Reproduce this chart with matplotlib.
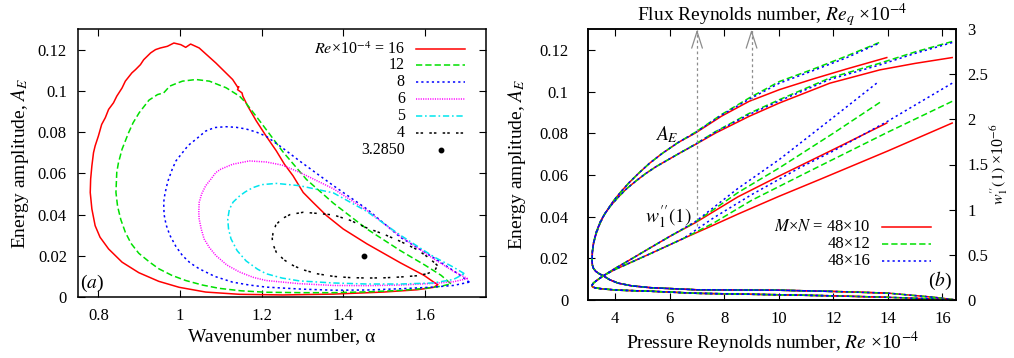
import matplotlib
matplotlib.use("Agg")
import matplotlib.pyplot as plt
import numpy as np

plt.rcParams.update({
    "font.family": "serif",
    "font.serif": ["Liberation Serif", "DejaVu Serif"],
    "mathtext.fontset": "stix",
    "font.size": 12,
    "lines.scale_dashes": False,
    "xtick.direction": "in", "ytick.direction": "in",
    "xtick.major.size": 5, "ytick.major.size": 5,
    "xtick.major.width": 0.8, "ytick.major.width": 0.8,
    "axes.linewidth": 1.1,
})

# ---------------- panel (a): A_E vs alpha, one closed curve per Re ----------------
ALPHA_16 = [1.141, 1.129, 1.088, 1.047, 1.026, 1.014, 1.002, 0.985, 0.969, 0.952, 0.940, 0.928, 0.911,
            0.903, 0.891, 0.882, 0.866, 0.858, 0.845, 0.837, 0.825, 0.817, 0.808, 0.800, 0.792, 0.788,
            0.784, 0.781, 0.780, 0.784, 0.792, 0.804, 0.825, 0.858, 0.899, 0.948, 0.998, 1.063, 1.146,
            1.252, 1.376, 1.499, 1.581, 1.622, 1.632, 1.622, 1.598, 1.540, 1.458, 1.400, 1.359, 1.326,
            1.302, 1.277, 1.256, 1.236, 1.211, 1.187, 1.166, 1.154, 1.152, 1.141, 1.144]
AE_16 = [0.1019, 0.1055, 0.1135, 0.1208, 0.1227, 0.1211, 0.1224, 0.1232, 0.1216, 0.1208, 0.1200, 0.1184,
         0.1151, 0.1127, 0.1103, 0.1087, 0.1047, 0.1014, 0.0974, 0.0942, 0.0910, 0.0870, 0.0837, 0.0781,
         0.0733, 0.0700, 0.0636, 0.0572, 0.0507, 0.0427, 0.0346, 0.0290, 0.0233, 0.0169, 0.0118, 0.0076,
         0.0047, 0.0024, 0.0013, 0.0010, 0.0014, 0.0024, 0.0035, 0.0047, 0.0060, 0.0072, 0.0105, 0.0166,
         0.0258, 0.0330, 0.0395, 0.0459, 0.0507, 0.0588, 0.0644, 0.0709, 0.0781, 0.0854, 0.0926, 0.0974,
         0.0990, 0.1006, 0.1019]

ALPHA_12 = [1.664, 1.640, 1.600, 1.540, 1.458, 1.376, 1.310, 1.252, 1.195, 1.160, 1.146, 1.113, 1.072,
            1.039, 1.006, 0.990, 0.975, 0.960, 0.945, 0.924, 0.900, 0.885, 0.874, 0.858, 0.849, 0.845,
            0.843, 0.847, 0.855, 0.866, 0.880, 0.899, 0.925, 0.948, 0.980, 1.014, 1.055, 1.096, 1.150,
            1.211, 1.300, 1.376, 1.460, 1.540, 1.600, 1.640, 1.664]
AE_12 = [0.0064, 0.0105, 0.0155, 0.0225, 0.0330, 0.0455, 0.0570, 0.0705, 0.0855, 0.0945, 0.0974, 0.1015,
         0.1047, 0.1055, 0.1047, 0.1035, 0.1023, 0.0990, 0.0982, 0.0955, 0.0894, 0.0845, 0.0797, 0.0717,
         0.0650, 0.0604, 0.0507, 0.0440, 0.0375, 0.0314, 0.0260, 0.0212, 0.0170, 0.0137, 0.0105, 0.0080,
         0.0058, 0.0042, 0.0030, 0.0023, 0.0021, 0.0021, 0.0025, 0.0032, 0.0042, 0.0052, 0.0064]

ALPHA_8 = [1.709, 1.680, 1.622, 1.540, 1.458, 1.376, 1.293, 1.250, 1.211, 1.187, 1.162, 1.138, 1.113,
           1.085, 1.063, 1.039, 1.020, 1.006, 0.990, 0.981, 0.970, 0.963, 0.960, 0.961, 0.966, 0.975,
           0.990, 1.006, 1.025, 1.047, 1.085, 1.129, 1.170, 1.211, 1.300, 1.376, 1.460, 1.540, 1.620,
           1.670, 1.709]
AE_8 = [0.0072, 0.0115, 0.0190, 0.0290, 0.0427, 0.0540, 0.0660, 0.0725, 0.0780, 0.0800, 0.0815, 0.0823,
        0.0826, 0.0822, 0.0805, 0.0765, 0.0735, 0.0700, 0.0660, 0.0620, 0.0560, 0.0500, 0.0459, 0.0400,
        0.0350, 0.0300, 0.0245, 0.0201, 0.0165, 0.0137, 0.0100, 0.0072, 0.0058, 0.0048, 0.0038, 0.0033,
        0.0034, 0.0040, 0.0048, 0.0056, 0.0072]

ALPHA_6 = [1.705, 1.670, 1.622, 1.540, 1.458, 1.376, 1.293, 1.250, 1.211, 1.170, 1.129, 1.100, 1.088,
           1.075, 1.063, 1.053, 1.047, 1.046, 1.047, 1.052, 1.059, 1.072, 1.088, 1.115, 1.146, 1.180,
           1.211, 1.290, 1.376, 1.460, 1.540, 1.620, 1.670, 1.705]
AE_6 = [0.0089, 0.0125, 0.0185, 0.0295, 0.0420, 0.0525, 0.0605, 0.0640, 0.0655, 0.0660, 0.0644, 0.0620,
        0.0604, 0.0570, 0.0540, 0.0500, 0.0459, 0.0410, 0.0378, 0.0330, 0.0282, 0.0240, 0.0201, 0.0155,
        0.0121, 0.0095, 0.0080, 0.0065, 0.0056, 0.0055, 0.0058, 0.0066, 0.0074, 0.0089]

ALPHA_5 = [1.697, 1.670, 1.622, 1.540, 1.458, 1.376, 1.293, 1.236, 1.200, 1.178, 1.160, 1.146, 1.130,
           1.121, 1.117, 1.119, 1.125, 1.140, 1.162, 1.190, 1.211, 1.250, 1.293, 1.376, 1.458, 1.540,
           1.620, 1.670, 1.697]
AE_5 = [0.0113, 0.0145, 0.0195, 0.0300, 0.0415, 0.0505, 0.0540, 0.0551, 0.0545, 0.0530, 0.0510, 0.0490,
        0.0460, 0.0425, 0.0378, 0.0330, 0.0282, 0.0225, 0.0175, 0.0135, 0.0113, 0.0092, 0.0078, 0.0068,
        0.0063, 0.0063, 0.0068, 0.0085, 0.0113]

ALPHA_4 = [1.631, 1.610, 1.581, 1.540, 1.499, 1.458, 1.417, 1.376, 1.340, 1.302, 1.270, 1.250, 1.235,
           1.228, 1.226, 1.229, 1.236, 1.255, 1.277, 1.300, 1.335, 1.376, 1.417, 1.460, 1.500, 1.540,
           1.580, 1.606, 1.625, 1.631]
AE_4 = [0.0153, 0.0190, 0.0230, 0.0270, 0.0305, 0.0335, 0.0372, 0.0398, 0.0405, 0.0411, 0.0400, 0.0380,
        0.0350, 0.0310, 0.0282, 0.0250, 0.0217, 0.0180, 0.0153, 0.0133, 0.0113, 0.0100, 0.0094, 0.0092,
        0.0093, 0.0097, 0.0103, 0.0113, 0.0130, 0.0153]

POINT_ALPHA = [1.45]
POINT_AE = [0.0198]

RE_LABELS = [r"$Re$×10$^{-4}$ = 16", "12", "8", "6", "5", "4"]

# ---------------- panel (b): A_E and w''_1(1) vs Re, two solution families ----------------
# A_E upper tails (family 1 ends near Re=14, family 2 near Re=16.4)
RE_AE1_RED = [13.96, 12.48, 11.25, 10.02, 8.91, 7.9, 6.94]
AE1_RED = [0.1163, 0.1108, 0.1060, 0.1009, 0.0953, 0.0882, 0.0801]
RE_AE1_GRN = [13.68, 12.48, 11.25, 10.02, 8.91, 7.9, 6.94]
AE1_GRN = [0.1235, 0.1170, 0.1107, 0.1048, 0.0969, 0.0890, 0.0805]
RE_AE1_BLU = [13.62, 12.48, 11.25, 10.02, 8.91, 7.9, 6.94]
AE1_BLU = [0.1228, 0.1162, 0.1100, 0.1040, 0.0963, 0.0887, 0.0803]

RE_AE2_RED = [16.36, 15.0, 13.71, 11.87, 10.02, 8.91, 7.68, 6.94]
AE2_RED = [0.1163, 0.1135, 0.1104, 0.1040, 0.0945, 0.0881, 0.0801, 0.0746]
RE_AE2_GRN = [16.36, 15.0, 13.71, 11.87, 10.02, 8.91, 7.68, 6.94]
AE2_GRN = [0.1240, 0.1190, 0.1136, 0.1065, 0.0961, 0.0895, 0.0808, 0.0748]
RE_AE2_BLU = [16.36, 15.0, 13.71, 11.87, 10.02, 8.91, 7.68, 6.94]
AE2_BLU = [0.1235, 0.1183, 0.1128, 0.1058, 0.0955, 0.0890, 0.0806, 0.0747]

# A_E near the fold (same for all resolutions)
RE_AE1_NOSE = [6.3, 5.71, 5.25, 4.85, 4.5, 4.2, 3.95, 3.75, 3.55, 3.4, 3.28, 3.2, 3.16, 3.15]
AE1_NOSE = [0.0755, 0.0702, 0.0655, 0.0607, 0.0562, 0.0518, 0.0478, 0.0440, 0.0398, 0.0355, 0.0310,
            0.0270, 0.0230, 0.0190]
RE_AE2_NOSE = [6.3, 5.9, 5.5, 5.1, 4.75, 4.4, 4.1, 3.85, 3.62, 3.45, 3.3, 3.21, 3.16, 3.15]
AE2_NOSE = [0.0700, 0.0670, 0.0640, 0.0605, 0.0570, 0.0532, 0.0492, 0.0455, 0.0415, 0.0375, 0.0325,
            0.0278, 0.0232, 0.0190]
RE_AE_LOW = [3.16, 3.2, 3.28, 3.4, 3.56, 3.8, 4.1, 4.6, 5.3, 7.0, 10.0, 12.0, 14.0, 15.7, 16.4]
AE_LOW = [0.0168, 0.0152, 0.0138, 0.0127, 0.0116, 0.0097, 0.0081, 0.0068, 0.0059, 0.0049, 0.0047,
          0.0041, 0.0033, 0.0013, 0.0002]

# w''_1(1) x 1e-6 (right axis) upper tails
RE_W1_RED = [13.96, 12.0, 10.0, 8.5, 7.62, 6.94]
W1_RED = [1.959, 1.666, 1.371, 1.142, 0.981, 0.856]
RE_W1_GRN = [13.71, 12.0, 10.02, 8.5, 7.62, 6.94]
W1_GRN = [2.188, 1.846, 1.463, 1.189, 1.004, 0.863]
RE_W1_BLU = [13.59, 12.0, 10.02, 8.5, 7.62, 6.94]
W1_BLU = [2.400, 2.022, 1.556, 1.235, 1.027, 0.868]

RE_W2_RED = [16.36, 14.0, 11.5, 10.0, 8.5, 7.62]
W2_RED = [1.959, 1.650, 1.334, 1.147, 0.951, 0.831]
RE_W2_GRN = [16.36, 14.0, 12.0, 10.76, 9.0, 7.62]
W2_GRN = [2.199, 1.858, 1.558, 1.371, 1.103, 0.854]
RE_W2_BLU = [16.36, 14.0, 12.0, 10.76, 9.0, 7.62]
W2_BLU = [2.400, 1.980, 1.650, 1.463, 1.166, 0.912]

RE_W1_NOSE = [6.0, 5.28, 4.5, 4.0, 3.56, 3.3, 3.2, 3.16, 3.15]
W1_NOSE = [0.704, 0.577, 0.438, 0.351, 0.268, 0.212, 0.188, 0.170, 0.157]
RE_W2_NOSE = [6.5, 5.28, 4.5, 4.0, 3.56, 3.3, 3.2, 3.16, 3.15]
W2_NOSE = [0.681, 0.512, 0.406, 0.339, 0.268, 0.212, 0.188, 0.170, 0.157]
RE_W_LOW = [3.17, 3.25, 3.4, 3.6, 4.1, 5.3, 7.0, 10.0, 12.0, 14.0, 15.7, 16.4]
W_LOW = [0.145, 0.136, 0.128, 0.121, 0.109, 0.097, 0.074, 0.058, 0.046, 0.030, 0.012, 0.002]

MN_LABELS = [r"$M$×$N$ = 48×10", "48×12", "48×16"]
ARROW_RE = [7, 9]
ARROW_FROM = [0.0355, 0.096]

# ---------------- styles ----------------
RED, GRN, BLU = "#ff0000", "#00e000", "#0000ff"
LS_SOLID = "-"
LS_DASH = (0, (4.5, 2.2))
LS_DOT = (0, (1.6, 2.2))
LW = 1.1

fig = plt.figure(figsize=(10.14, 3.58), dpi=100)
axa = fig.add_axes([78 / 1014, 61 / 358, 408 / 1014, 268 / 358])
axb = fig.add_axes([588 / 1014, 58 / 358, 368 / 1014, 271 / 358])

# ---- panel (a) ----
curves_a = [
    (ALPHA_16, AE_16, RED, LS_SOLID),
    (ALPHA_12, AE_12, GRN, LS_DASH),
    (ALPHA_8, AE_8, BLU, LS_DOT),
    (ALPHA_6, AE_6, "#ff00ff", (0, (0.8, 0.9))),
    (ALPHA_5, AE_5, "#00e5ee", (0, (4.5, 2.0, 1.2, 2.0))),
    (ALPHA_4, AE_4, "black", (0, (1.8, 1.5, 1.8, 4.5))),
]
leg_y = [0.924, 0.866, 0.804, 0.739, 0.677, 0.613, 0.549]
for (x, y, c, ls), lab, ly in zip(curves_a, RE_LABELS, leg_y):
    axa.plot(x, y, color=c, ls=ls, lw=LW)
    axa.plot([0.828, 0.949], [ly, ly], color=c, ls=ls, lw=LW, transform=axa.transAxes)
    axa.text(0.801, ly, lab, transform=axa.transAxes, ha="right", va="center", fontsize=11.5)
axa.plot(POINT_ALPHA, POINT_AE, "o", color="black", ms=3.2)
axa.plot([0.889], [leg_y[6]], "o", color="black", ms=3.2, transform=axa.transAxes)
axa.text(0.801, leg_y[6], "3.2850", transform=axa.transAxes, ha="right", va="center", fontsize=11.5)

axa.set_xlim(0.75, 1.75)
axa.set_ylim(0, 0.13)
axa.set_xticks([0.8, 1.0, 1.2, 1.4, 1.6])
axa.set_xticklabels(["0.8", "1", "1.2", "1.4", "1.6"])
axa.set_yticks([0, 0.02, 0.04, 0.06, 0.08, 0.1, 0.12])
axa.set_yticklabels(["0", "0.02", "0.04", "0.06", "0.08", "0.1", "0.12"])
axa.tick_params(top=True, right=True, labelsize=12)
axa.tick_params(axis="x", pad=8)
axa.tick_params(axis="y", pad=8)
axa.set_xlabel("Wavenumber number, α", fontsize=14, labelpad=3)
axa.set_ylabel(r"Energy amplitude, $A_E$", fontsize=14, labelpad=5)
axa.text(0.005, 0.012, r"($a$)", transform=axa.transAxes, ha="left", va="bottom", fontsize=14)

# ---- panel (b) ----
axr = axb.twinx()
axr.set_position(axb.get_position())

def lower(re, v, re_max):
    pts = [(r, w) for r, w in zip(re, v) if r <= re_max]
    return [p[0] for p in pts], [p[1] for p in pts]

ae_sets = [
    (RE_AE1_RED, AE1_RED, RE_AE1_NOSE, AE1_NOSE, 14.0, RED, LS_SOLID),
    (RE_AE2_RED, AE2_RED, RE_AE2_NOSE, AE2_NOSE, 16.4, RED, LS_SOLID),
    (RE_AE1_GRN, AE1_GRN, RE_AE1_NOSE, AE1_NOSE, 13.7, GRN, LS_DASH),
    (RE_AE2_GRN, AE2_GRN, RE_AE2_NOSE, AE2_NOSE, 16.4, GRN, LS_DASH),
    (RE_AE1_BLU, AE1_BLU, RE_AE1_NOSE, AE1_NOSE, 13.7, BLU, LS_DOT),
    (RE_AE2_BLU, AE2_BLU, RE_AE2_NOSE, AE2_NOSE, 16.4, BLU, LS_DOT),
]
for re_t, v_t, re_n, v_n, rmax, c, ls in ae_sets:
    re_l, v_l = lower(RE_AE_LOW, AE_LOW, rmax)
    axb.plot(re_t + re_n + re_l, v_t + v_n + v_l, color=c, ls=ls, lw=LW)

w_sets = [
    (RE_W1_RED, W1_RED, RE_W1_NOSE, W1_NOSE, 14.0, RED, LS_SOLID),
    (RE_W2_RED, W2_RED, RE_W2_NOSE, W2_NOSE, 16.4, RED, LS_SOLID),
    (RE_W1_GRN, W1_GRN, RE_W1_NOSE, W1_NOSE, 13.7, GRN, LS_DASH),
    (RE_W2_GRN, W2_GRN, RE_W2_NOSE, W2_NOSE, 16.4, GRN, LS_DASH),
    (RE_W1_BLU, W1_BLU, RE_W1_NOSE, W1_NOSE, 13.7, BLU, LS_DOT),
    (RE_W2_BLU, W2_BLU, RE_W2_NOSE, W2_NOSE, 16.4, BLU, LS_DOT),
]
for re_t, v_t, re_n, v_n, rmax, c, ls in w_sets:
    re_l, v_l = lower(RE_W_LOW, W_LOW, rmax)
    axr.plot(re_t + re_n + re_l, v_t + v_n + v_l, color=c, ls=ls, lw=LW)

# gray dashed arrows up to the flux-Re axis
for xr, y0 in zip(ARROW_RE, ARROW_FROM):
    axb.plot([xr, xr], [y0, 0.1295], color="#8c8c8c", ls=(0, (2.0, 2.0)), lw=0.9)
    axb.annotate("", xy=(xr, 0.1298), xytext=(xr, 0.1278),
                 arrowprops=dict(arrowstyle="->,head_length=1.0,head_width=0.32",
                                 color="#8c8c8c", lw=0.9, shrinkA=0, shrinkB=0))

leg_yb = [0.270, 0.207, 0.144]
for (c, ls), lab, ly in zip([(RED, LS_SOLID), (GRN, LS_DASH), (BLU, LS_DOT)], MN_LABELS, leg_yb):
    axr.plot([0.798, 0.931], [ly, ly], color=c, ls=ls, lw=LW, transform=axr.transAxes)
    axr.text(0.768, ly, lab, transform=axr.transAxes, ha="right", va="center", fontsize=12)

axb.text(5.88, 0.0793, r"$A_E$", ha="center", va="center", fontsize=14)
axb.text(5.96, 0.0397, r"$w^{\prime\prime}_{1}(1)$", ha="center", va="center", fontsize=14)
axr.text(0.989, 0.03, r"($b$)", transform=axr.transAxes, ha="right", va="bottom", fontsize=14)

axb.set_xlim(3, 16.5)
axb.set_ylim(0, 0.13)
axr.set_ylim(0, 3)
axb.set_xticks([4, 6, 8, 10, 12, 14, 16])
axb.set_yticks([0, 0.02, 0.04, 0.06, 0.08, 0.1, 0.12])
axb.set_yticklabels(["0", "0.02", "0.04", "0.06", "0.08", "0.1", "0.12"])
axr.set_yticks([0, 0.5, 1, 1.5, 2, 2.5, 3])
axr.set_yticklabels(["0", "0.5", "1", "1.5", "2", "2.5", "3"])
axb.tick_params(top=True, right=False, labelsize=12)
axb.tick_params(axis="x", pad=8)
axb.tick_params(axis="y", pad=14)
axr.tick_params(axis="y", labelsize=12, pad=8)
axb.set_xlabel(r"Pressure Reynolds number, $Re$ ×10$^{-4}$", fontsize=14, labelpad=2)
axb.set_ylabel(r"Energy amplitude, $A_E$", fontsize=14, labelpad=8)
axr.set_ylabel(r"$w^{\prime\prime}_{1}(1)$ ×10$^{-6}$", fontsize=11.5, labelpad=0)
axb.set_title(r"Flux Reynolds number, $Re_q$ ×10$^{-4}$", fontsize=14, pad=4)

fig.savefig("out.png", dpi=100)
